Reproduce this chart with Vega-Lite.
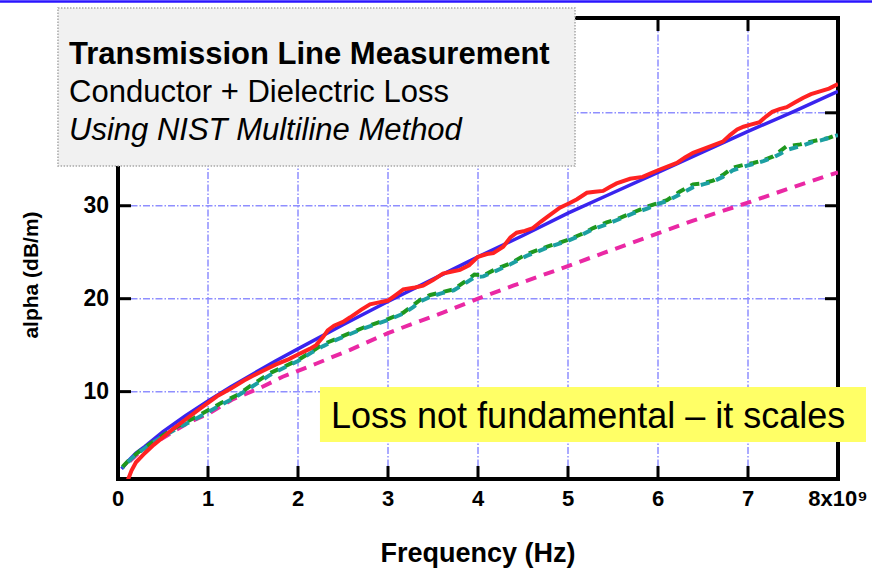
{
  "$schema": "https://vega.github.io/schema/vega-lite/v6.json",
  "width": 720,
  "height": 461,
  "autosize": {"type": "none"},
  "padding": {"left": 118, "top": 18, "right": 34, "bottom": 97},
  "background": "white",
  "config": {
    "font": "Liberation Sans",
    "view": {"stroke": "black", "strokeWidth": 4}
  },
  "datasets": {
    "diel": [
      {"ghz": 0.13, "alpha": 2.5}, {"ghz": 0.25, "alpha": 3.6}, {"ghz": 0.39, "alpha": 4.4}, {"ghz": 0.55, "alpha": 5.3}, {"ghz": 0.77, "alpha": 6.6}, {"ghz": 1.0, "alpha": 7.6}, {"ghz": 1.28, "alpha": 9.2}, {"ghz": 1.58, "alpha": 10.4}, {"ghz": 1.83, "alpha": 11.6}, {"ghz": 2.2, "alpha": 13.0}, {"ghz": 2.58, "alpha": 14.5}, {"ghz": 3.0, "alpha": 16.3}, {"ghz": 3.3, "alpha": 17.4}, {"ghz": 3.61, "alpha": 18.5}, {"ghz": 4.0, "alpha": 20.0}, {"ghz": 4.39, "alpha": 21.4}, {"ghz": 4.91, "alpha": 23.2}, {"ghz": 5.39, "alpha": 24.9}, {"ghz": 5.88, "alpha": 26.6}, {"ghz": 6.39, "alpha": 28.4}, {"ghz": 6.99, "alpha": 30.3}, {"ghz": 7.5, "alpha": 32.0}, {"ghz": 8.0, "alpha": 33.6}
    ],
    "teal": [
      {"ghz": 0.05, "alpha": 1.8}, {"ghz": 0.15, "alpha": 2.8}, {"ghz": 0.28, "alpha": 3.8}, {"ghz": 0.45, "alpha": 4.9}, {"ghz": 0.65, "alpha": 6.0}, {"ghz": 0.85, "alpha": 7.0}, {"ghz": 1.0, "alpha": 7.8}, {"ghz": 1.15, "alpha": 8.6}, {"ghz": 1.32, "alpha": 9.5}, {"ghz": 1.5, "alpha": 10.6}, {"ghz": 1.69, "alpha": 11.8}, {"ghz": 1.85, "alpha": 12.6}, {"ghz": 2.0, "alpha": 13.3}, {"ghz": 2.15, "alpha": 14.2}, {"ghz": 2.28, "alpha": 14.9}, {"ghz": 2.43, "alpha": 15.6}, {"ghz": 2.58, "alpha": 16.2}, {"ghz": 2.73, "alpha": 16.8}, {"ghz": 2.88, "alpha": 17.3}, {"ghz": 3.0, "alpha": 17.7}, {"ghz": 3.17, "alpha": 18.4}, {"ghz": 3.28, "alpha": 19.1}, {"ghz": 3.36, "alpha": 19.7}, {"ghz": 3.47, "alpha": 20.2}, {"ghz": 3.6, "alpha": 20.6}, {"ghz": 3.73, "alpha": 20.9}, {"ghz": 3.85, "alpha": 21.6}, {"ghz": 3.96, "alpha": 22.3}, {"ghz": 4.06, "alpha": 22.4}, {"ghz": 4.2, "alpha": 23.0}, {"ghz": 4.36, "alpha": 23.7}, {"ghz": 4.54, "alpha": 24.6}, {"ghz": 4.77, "alpha": 25.5}, {"ghz": 4.99, "alpha": 26.2}, {"ghz": 5.14, "alpha": 26.8}, {"ghz": 5.28, "alpha": 27.5}, {"ghz": 5.43, "alpha": 28.0}, {"ghz": 5.58, "alpha": 28.6}, {"ghz": 5.73, "alpha": 29.2}, {"ghz": 5.88, "alpha": 29.7}, {"ghz": 6.0, "alpha": 30.2}, {"ghz": 6.1, "alpha": 30.5}, {"ghz": 6.24, "alpha": 31.2}, {"ghz": 6.39, "alpha": 32.0}, {"ghz": 6.5, "alpha": 32.3}, {"ghz": 6.61, "alpha": 32.6}, {"ghz": 6.72, "alpha": 33.1}, {"ghz": 6.83, "alpha": 33.8}, {"ghz": 6.95, "alpha": 34.2}, {"ghz": 7.06, "alpha": 34.5}, {"ghz": 7.17, "alpha": 34.8}, {"ghz": 7.28, "alpha": 35.2}, {"ghz": 7.36, "alpha": 35.6}, {"ghz": 7.43, "alpha": 36.0}, {"ghz": 7.58, "alpha": 36.4}, {"ghz": 7.7, "alpha": 36.8}, {"ghz": 7.8, "alpha": 37.0}, {"ghz": 7.9, "alpha": 37.3}, {"ghz": 8.0, "alpha": 37.6}
    ],
    "green": [
      {"ghz": 0.05, "alpha": 1.9}, {"ghz": 0.15, "alpha": 2.9}, {"ghz": 0.28, "alpha": 3.9}, {"ghz": 0.45, "alpha": 5.0}, {"ghz": 0.65, "alpha": 6.2}, {"ghz": 0.85, "alpha": 7.2}, {"ghz": 1.0, "alpha": 8.0}, {"ghz": 1.15, "alpha": 8.8}, {"ghz": 1.32, "alpha": 9.6}, {"ghz": 1.5, "alpha": 10.8}, {"ghz": 1.69, "alpha": 12.0}, {"ghz": 1.85, "alpha": 12.7}, {"ghz": 2.0, "alpha": 13.4}, {"ghz": 2.15, "alpha": 14.3}, {"ghz": 2.28, "alpha": 15.1}, {"ghz": 2.43, "alpha": 15.7}, {"ghz": 2.58, "alpha": 16.3}, {"ghz": 2.73, "alpha": 16.9}, {"ghz": 2.88, "alpha": 17.4}, {"ghz": 3.0, "alpha": 17.8}, {"ghz": 3.17, "alpha": 18.5}, {"ghz": 3.28, "alpha": 19.3}, {"ghz": 3.36, "alpha": 19.9}, {"ghz": 3.47, "alpha": 20.4}, {"ghz": 3.6, "alpha": 20.7}, {"ghz": 3.73, "alpha": 21.0}, {"ghz": 3.85, "alpha": 21.8}, {"ghz": 3.96, "alpha": 22.6}, {"ghz": 4.06, "alpha": 22.5}, {"ghz": 4.2, "alpha": 23.2}, {"ghz": 4.36, "alpha": 23.8}, {"ghz": 4.54, "alpha": 24.8}, {"ghz": 4.77, "alpha": 25.6}, {"ghz": 4.99, "alpha": 26.3}, {"ghz": 5.14, "alpha": 26.9}, {"ghz": 5.28, "alpha": 27.6}, {"ghz": 5.43, "alpha": 28.2}, {"ghz": 5.58, "alpha": 28.7}, {"ghz": 5.73, "alpha": 29.3}, {"ghz": 5.88, "alpha": 29.9}, {"ghz": 6.0, "alpha": 30.3}, {"ghz": 6.1, "alpha": 30.6}, {"ghz": 6.24, "alpha": 31.5}, {"ghz": 6.39, "alpha": 32.3}, {"ghz": 6.5, "alpha": 32.4}, {"ghz": 6.61, "alpha": 32.7}, {"ghz": 6.72, "alpha": 33.3}, {"ghz": 6.83, "alpha": 34.1}, {"ghz": 6.95, "alpha": 34.4}, {"ghz": 7.06, "alpha": 34.6}, {"ghz": 7.17, "alpha": 34.9}, {"ghz": 7.28, "alpha": 35.3}, {"ghz": 7.36, "alpha": 35.9}, {"ghz": 7.43, "alpha": 36.4}, {"ghz": 7.58, "alpha": 36.6}, {"ghz": 7.7, "alpha": 36.9}, {"ghz": 7.8, "alpha": 37.1}, {"ghz": 7.9, "alpha": 37.3}, {"ghz": 8.0, "alpha": 37.7}
    ],
    "model": [
      {"ghz": 0.04, "alpha": 1.7}, {"ghz": 0.1, "alpha": 2.4}, {"ghz": 0.2, "alpha": 3.4}, {"ghz": 0.3, "alpha": 4.1}, {"ghz": 0.5, "alpha": 5.7}, {"ghz": 0.75, "alpha": 7.4}, {"ghz": 1.0, "alpha": 9.0}, {"ghz": 1.25, "alpha": 10.5}, {"ghz": 1.5, "alpha": 11.9}, {"ghz": 1.75, "alpha": 13.3}, {"ghz": 2.0, "alpha": 14.6}, {"ghz": 2.5, "alpha": 17.2}, {"ghz": 3.0, "alpha": 19.7}, {"ghz": 3.5, "alpha": 22.1}, {"ghz": 4.0, "alpha": 24.5}, {"ghz": 4.5, "alpha": 26.8}, {"ghz": 5.0, "alpha": 29.2}, {"ghz": 5.5, "alpha": 31.4}, {"ghz": 6.0, "alpha": 33.6}, {"ghz": 6.5, "alpha": 35.8}, {"ghz": 7.0, "alpha": 38.0}, {"ghz": 7.5, "alpha": 40.1}, {"ghz": 8.0, "alpha": 42.3}
    ],
    "measured": [
      {"ghz": 0.11, "alpha": 0.5}, {"ghz": 0.15, "alpha": 1.5}, {"ghz": 0.2, "alpha": 2.4}, {"ghz": 0.3, "alpha": 3.4}, {"ghz": 0.4, "alpha": 4.3}, {"ghz": 0.5, "alpha": 5.1}, {"ghz": 0.6, "alpha": 5.9}, {"ghz": 0.75, "alpha": 7.0}, {"ghz": 0.9, "alpha": 8.1}, {"ghz": 1.0, "alpha": 8.8}, {"ghz": 1.1, "alpha": 9.5}, {"ghz": 1.25, "alpha": 10.3}, {"ghz": 1.4, "alpha": 11.2}, {"ghz": 1.5, "alpha": 11.7}, {"ghz": 1.6, "alpha": 12.2}, {"ghz": 1.75, "alpha": 12.9}, {"ghz": 1.9, "alpha": 13.5}, {"ghz": 2.0, "alpha": 14.0}, {"ghz": 2.13, "alpha": 14.6}, {"ghz": 2.2, "alpha": 15.0}, {"ghz": 2.28, "alpha": 15.9}, {"ghz": 2.33, "alpha": 16.6}, {"ghz": 2.4, "alpha": 17.1}, {"ghz": 2.5, "alpha": 17.5}, {"ghz": 2.58, "alpha": 18.0}, {"ghz": 2.7, "alpha": 18.8}, {"ghz": 2.8, "alpha": 19.4}, {"ghz": 2.9, "alpha": 19.6}, {"ghz": 3.0, "alpha": 19.8}, {"ghz": 3.1, "alpha": 20.5}, {"ghz": 3.17, "alpha": 21.0}, {"ghz": 3.3, "alpha": 21.2}, {"ghz": 3.39, "alpha": 21.4}, {"ghz": 3.5, "alpha": 22.0}, {"ghz": 3.61, "alpha": 22.7}, {"ghz": 3.7, "alpha": 22.9}, {"ghz": 3.8, "alpha": 23.1}, {"ghz": 3.9, "alpha": 23.6}, {"ghz": 4.0, "alpha": 24.5}, {"ghz": 4.1, "alpha": 24.8}, {"ghz": 4.17, "alpha": 24.9}, {"ghz": 4.28, "alpha": 25.6}, {"ghz": 4.36, "alpha": 26.6}, {"ghz": 4.43, "alpha": 27.1}, {"ghz": 4.52, "alpha": 27.3}, {"ghz": 4.61, "alpha": 27.6}, {"ghz": 4.7, "alpha": 28.3}, {"ghz": 4.77, "alpha": 28.8}, {"ghz": 4.91, "alpha": 29.8}, {"ghz": 5.02, "alpha": 30.3}, {"ghz": 5.1, "alpha": 30.7}, {"ghz": 5.21, "alpha": 31.4}, {"ghz": 5.3, "alpha": 31.5}, {"ghz": 5.39, "alpha": 31.6}, {"ghz": 5.46, "alpha": 32.0}, {"ghz": 5.54, "alpha": 32.4}, {"ghz": 5.69, "alpha": 32.9}, {"ghz": 5.83, "alpha": 33.1}, {"ghz": 5.92, "alpha": 33.5}, {"ghz": 6.02, "alpha": 33.9}, {"ghz": 6.21, "alpha": 34.6}, {"ghz": 6.3, "alpha": 35.2}, {"ghz": 6.39, "alpha": 35.7}, {"ghz": 6.5, "alpha": 36.1}, {"ghz": 6.61, "alpha": 36.5}, {"ghz": 6.72, "alpha": 36.9}, {"ghz": 6.8, "alpha": 37.6}, {"ghz": 6.88, "alpha": 38.2}, {"ghz": 6.95, "alpha": 38.5}, {"ghz": 7.02, "alpha": 38.7}, {"ghz": 7.13, "alpha": 39.0}, {"ghz": 7.2, "alpha": 39.6}, {"ghz": 7.27, "alpha": 40.1}, {"ghz": 7.35, "alpha": 40.4}, {"ghz": 7.43, "alpha": 40.6}, {"ghz": 7.52, "alpha": 41.1}, {"ghz": 7.61, "alpha": 41.6}, {"ghz": 7.7, "alpha": 42.0}, {"ghz": 7.8, "alpha": 42.3}, {"ghz": 7.9, "alpha": 42.6}, {"ghz": 8.0, "alpha": 43.1}
    ],
    "xticks": [{"ghz": 1}, {"ghz": 2}, {"ghz": 3}, {"ghz": 4}, {"ghz": 5}, {"ghz": 6}, {"ghz": 7}],
    "yticks": [{"alpha": 10}, {"alpha": 20}, {"alpha": 30}, {"alpha": 40}],
    "xlabels": [{"ghz": 0, "label": "0"}, {"ghz": 1, "label": "1"}, {"ghz": 2, "label": "2"}, {"ghz": 3, "label": "3"}, {"ghz": 4, "label": "4"}, {"ghz": 5, "label": "5"}, {"ghz": 6, "label": "6"}, {"ghz": 7, "label": "7"}, {"ghz": 8, "label": "8x10⁹"}],
    "ylabels": [{"alpha": 10, "label": "10"}, {"alpha": 20, "label": "20"}, {"alpha": 30, "label": "30"}]
  },
  "layer": [
    {
      "data": {"name": "xticks"},
      "mark": {"type": "rule", "strokeWidth": 1.5, "color": "#8f8fff", "strokeDash": [7, 2, 1.5, 2], "clip": false},
      "encoding": {
        "x": {"field": "ghz", "type": "quantitative", "scale": {"domain": [0, 8], "nice": false, "zero": false}, "axis": null},
        "y": {"datum": 0.6, "type": "quantitative", "scale": {"domain": [0.6, 50.2], "nice": false, "zero": false}, "axis": null},
        "y2": {"datum": 50.2}
      }
    },
    {
      "data": {"name": "yticks"},
      "mark": {"type": "rule", "strokeWidth": 1.5, "color": "#8f8fff", "strokeDash": [7, 2, 1.5, 2], "clip": false},
      "encoding": {
        "x": {"datum": 0, "type": "quantitative", "axis": null},
        "x2": {"datum": 8},
        "y": {"field": "alpha", "type": "quantitative", "axis": null}
      }
    },
    {
      "data": {"name": "diel"},
      "mark": {"type": "line", "strokeWidth": 4, "color": "#ea28a4", "strokeDash": [11, 8], "clip": true},
      "encoding": {
        "x": {"field": "ghz", "type": "quantitative", "axis": null},
        "y": {"field": "alpha", "type": "quantitative", "axis": null}
      }
    },
    {
      "data": {"name": "model"},
      "mark": {"type": "line", "strokeWidth": 3.5, "color": "#3a24ee", "clip": true},
      "encoding": {
        "x": {"field": "ghz", "type": "quantitative", "axis": null},
        "y": {"field": "alpha", "type": "quantitative", "axis": null}
      }
    },
    {
      "data": {"name": "green"},
      "mark": {"type": "line", "strokeWidth": 4, "color": "#1e981e", "strokeDash": [9, 7], "strokeDashOffset": 0, "clip": true},
      "encoding": {
        "x": {"field": "ghz", "type": "quantitative", "axis": null},
        "y": {"field": "alpha", "type": "quantitative", "axis": null}
      }
    },
    {
      "data": {"name": "teal"},
      "mark": {"type": "line", "strokeWidth": 4, "color": "#1c9fa2", "strokeDash": [9, 7], "strokeDashOffset": 8, "clip": true},
      "encoding": {
        "x": {"field": "ghz", "type": "quantitative", "axis": null},
        "y": {"field": "alpha", "type": "quantitative", "axis": null}
      }
    },
    {
      "data": {"name": "measured"},
      "mark": {"type": "line", "strokeWidth": 4, "color": "#ff2222", "clip": true},
      "encoding": {
        "x": {"field": "ghz", "type": "quantitative", "axis": null},
        "y": {"field": "alpha", "type": "quantitative", "axis": null}
      }
    },
    {
      "data": {"name": "xticks"},
      "mark": {"type": "tick", "orient": "vertical", "size": 26, "thickness": 3, "color": "black", "opacity": 1, "clip": true},
      "encoding": {
        "x": {"field": "ghz", "type": "quantitative", "axis": null},
        "y": {"datum": 0.6, "type": "quantitative", "axis": null}
      }
    },
    {
      "data": {"name": "xticks"},
      "mark": {"type": "tick", "orient": "vertical", "size": 26, "thickness": 3, "color": "black", "opacity": 1, "clip": true},
      "encoding": {
        "x": {"field": "ghz", "type": "quantitative", "axis": null},
        "y": {"datum": 50.2, "type": "quantitative", "axis": null}
      }
    },
    {
      "data": {"name": "yticks"},
      "mark": {"type": "tick", "orient": "horizontal", "size": 26, "thickness": 3, "color": "black", "opacity": 1, "clip": true},
      "encoding": {
        "x": {"datum": 0, "type": "quantitative", "axis": null},
        "y": {"field": "alpha", "type": "quantitative", "axis": null}
      }
    },
    {
      "data": {"name": "yticks"},
      "mark": {"type": "tick", "orient": "horizontal", "size": 26, "thickness": 3, "color": "black", "opacity": 1, "clip": true},
      "encoding": {
        "x": {"datum": 8, "type": "quantitative", "axis": null},
        "y": {"field": "alpha", "type": "quantitative", "axis": null}
      }
    },
    {
      "data": {"name": "xlabels"},
      "mark": {"type": "text", "align": "center", "baseline": "alphabetic", "font": "Liberation Sans", "fontSize": 22, "fontWeight": "bold", "color": "black", "clip": false},
      "encoding": {
        "x": {"field": "ghz", "type": "quantitative", "axis": null},
        "y": {"datum": -2.3, "type": "quantitative", "axis": null},
        "text": {"field": "label"}
      }
    },
    {
      "data": {"name": "ylabels"},
      "mark": {"type": "text", "align": "right", "baseline": "middle", "font": "Liberation Sans", "fontSize": 23, "fontWeight": "bold", "color": "black", "clip": false},
      "encoding": {
        "x": {"datum": -0.1, "type": "quantitative", "axis": null},
        "y": {"field": "alpha", "type": "quantitative", "axis": null},
        "text": {"field": "label"}
      }
    },
    {
      "data": {"values": [{}]},
      "mark": {"type": "text", "text": "Frequency (Hz)", "align": "center", "baseline": "alphabetic", "font": "Liberation Sans", "fontSize": 27, "fontWeight": "bold", "color": "black", "clip": false},
      "encoding": {
        "x": {"datum": 4, "type": "quantitative", "axis": null},
        "y": {"datum": -8.3, "type": "quantitative", "axis": null}
      }
    },
    {
      "data": {"values": [{}]},
      "mark": {"type": "text", "text": "alpha (dB/m)", "angle": 270, "align": "center", "baseline": "alphabetic", "font": "Liberation Sans", "fontSize": 21, "fontWeight": "bold", "color": "black", "clip": false},
      "encoding": {
        "x": {"datum": -0.889, "type": "quantitative", "axis": null},
        "y": {"datum": 22.55, "type": "quantitative", "axis": null}
      }
    },
    {
      "data": {"values": [{}]},
      "mark": {"type": "rule", "color": "#2a14ff", "strokeWidth": 2.5, "clip": false},
      "encoding": {
        "x": {"datum": -1.311, "type": "quantitative", "axis": null},
        "x2": {"datum": 8.378},
        "y": {"datum": 51.98, "type": "quantitative", "axis": null}
      }
    },
    {
      "data": {"values": [{}]},
      "mark": {"type": "rect", "fill": "#f1f1f1", "stroke": "#a8a8a8", "strokeWidth": 1.5, "strokeDash": [1.5, 1.5], "clip": false},
      "encoding": {
        "x": {"datum": -0.667, "type": "quantitative", "axis": null},
        "x2": {"datum": 5.078},
        "y": {"datum": 51.28, "type": "quantitative", "axis": null},
        "y2": {"datum": 34.28}
      }
    },
    {
      "data": {"values": [{}]},
      "mark": {"type": "text", "text": "Transmission Line Measurement", "align": "left", "baseline": "alphabetic", "font": "Liberation Sans", "fontSize": 31, "fontWeight": "bold", "color": "black", "clip": false},
      "encoding": {
        "x": {"datum": -0.544, "type": "quantitative", "axis": null},
        "y": {"datum": 45.25, "type": "quantitative", "axis": null}
      }
    },
    {
      "data": {"values": [{}]},
      "mark": {"type": "text", "text": "Conductor + Dielectric Loss", "align": "left", "baseline": "alphabetic", "font": "Liberation Sans", "fontSize": 31, "color": "black", "clip": false},
      "encoding": {
        "x": {"datum": -0.544, "type": "quantitative", "axis": null},
        "y": {"datum": 41.16, "type": "quantitative", "axis": null}
      }
    },
    {
      "data": {"values": [{}]},
      "mark": {"type": "text", "text": "Using NIST Multiline Method", "align": "left", "baseline": "alphabetic", "font": "Liberation Sans", "fontSize": 31, "fontStyle": "italic", "color": "black", "clip": false},
      "encoding": {
        "x": {"datum": -0.544, "type": "quantitative", "axis": null},
        "y": {"datum": 37.07, "type": "quantitative", "axis": null}
      }
    },
    {
      "data": {"values": [{}]},
      "mark": {"type": "rect", "fill": "#ffff66", "clip": false},
      "encoding": {
        "x": {"datum": 2.244, "type": "quantitative", "axis": null},
        "x2": {"datum": 8.311},
        "y": {"datum": 10.5, "type": "quantitative", "axis": null},
        "y2": {"datum": 4.58}
      }
    },
    {
      "data": {"values": [{}]},
      "mark": {"type": "text", "text": "Loss not fundamental – it scales", "align": "left", "baseline": "alphabetic", "font": "Liberation Sans", "fontSize": 36, "color": "black", "clip": false},
      "encoding": {
        "x": {"datum": 2.367, "type": "quantitative", "axis": null},
        "y": {"datum": 6.09, "type": "quantitative", "axis": null}
      }
    }
  ]
}
